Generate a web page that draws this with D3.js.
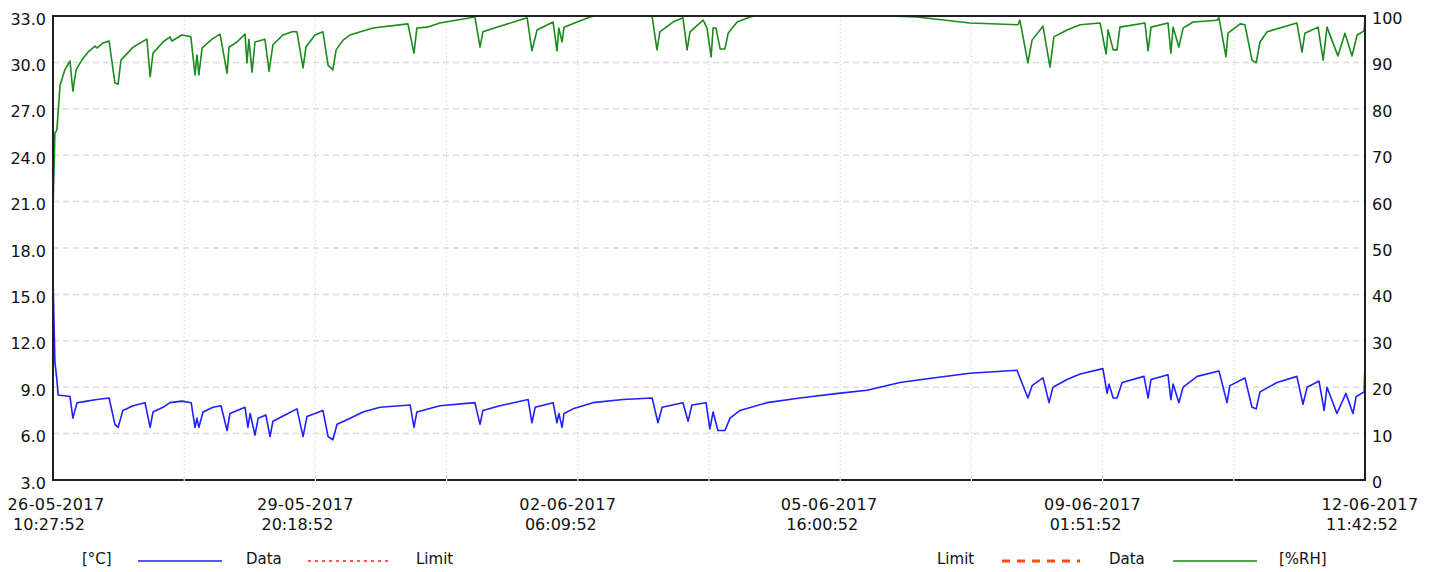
<!DOCTYPE html>
<html>
<head>
<meta charset="utf-8">
<script src="https://cdn.jsdelivr.net/npm/d3@7"></script>
<style>
  body { margin: 0; background: #fff; }
  svg text { font-family: "DejaVu Sans", sans-serif; fill: #111; }
</style>
</head>
<body>
<svg id="chart" width="1436" height="572"></svg>
<script>
// logger readings, hours since 26-05-2017 10:27:52
var startTime = new Date(2017, 4, 26, 10, 27, 52);
var endTime = new Date(2017, 5, 12, 11, 42, 52);

var tempHours = [0, 0.6, 1.2, 1.6, 5.3, 6.2, 7.5, 10.6, 13.7, 17.5, 19.3, 20.3, 21.8, 25.0, 28.7, 30.3, 31.2, 34.3, 36.5, 40.2,
  43.1, 44.3, 44.9, 45.5, 46.8, 49.9, 52.4, 54.3, 55.2, 59.9, 60.8, 61.5, 63.0, 64.0, 66.4, 67.7, 68.6, 72.4, 76.1, 78.0,
  79.2, 81.7, 84.2, 85.8, 87.3, 88.6, 91.7, 96.7, 102.0, 111.4, 112.6, 113.5, 120.7, 131.6, 133.2, 134.1, 139.4, 148.2, 149.4, 150.4,
  156.0, 157.2, 157.8, 158.8, 159.4, 162.2, 168.4, 177.8, 186.9, 188.7, 190.0, 196.5, 198.1, 199.3, 203.7, 204.9, 205.9, 207.4, 209.6, 211.2,
  214.3, 222.7, 233.0, 244.9, 253.9, 264.2, 274.5, 286.0, 300.7, 304.1, 305.4, 308.8, 310.7, 311.9, 316.3, 320.4, 327.5, 328.8, 329.4, 330.7,
  331.9, 333.5, 340.3, 341.6, 342.5, 347.8, 348.7, 349.4, 351.2, 352.5, 356.9, 363.7, 366.2, 367.1, 371.8, 374.0, 375.3, 376.5, 381.8, 388.0,
  389.9, 391.2, 394.9, 396.5, 397.4, 400.5, 403.3, 405.5, 406.5, 409.0, 409.25];
var tempValues = [16.0, 10.6, 9.5, 8.5, 8.4, 7.0, 8.0, 8.1, 8.2, 8.3, 6.6, 6.4, 7.5, 7.8, 8.0, 6.4, 7.4, 7.7, 8.0, 8.1,
  8.0, 6.4, 7.0, 6.4, 7.4, 7.7, 7.8, 6.2, 7.3, 7.7, 6.4, 7.3, 5.9, 7.0, 7.2, 5.8, 6.8, 7.2, 7.6, 5.8,
  7.1, 7.3, 7.5, 5.8, 5.6, 6.6, 6.9, 7.4, 7.7, 7.85, 6.4, 7.4, 7.8, 8.0, 6.6, 7.5, 7.8, 8.2, 6.7, 7.7,
  8.0, 6.7, 7.3, 6.4, 7.3, 7.6, 8.0, 8.2, 8.3, 6.7, 7.7, 8.0, 6.8, 7.85, 8.0, 6.3, 7.4, 6.2, 6.2, 7.0,
  7.5, 8.0, 8.3, 8.6, 8.8, 9.3, 9.6, 9.9, 10.1, 8.3, 9.1, 9.6, 8.0, 9.0, 9.5, 9.85, 10.2, 8.6, 9.2, 8.3,
  8.3, 9.3, 9.7, 8.3, 9.5, 9.8, 8.2, 9.2, 8.0, 9.0, 9.7, 10.05, 8.0, 9.1, 9.6, 7.7, 7.6, 8.7, 9.3, 9.7,
  7.9, 9.0, 9.4, 7.5, 9.0, 7.3, 8.6, 7.3, 8.4, 8.7, 10.6];

var rhHours = [0, 0.6, 1.2, 2.2, 3.7, 5.3, 6.2, 7.2, 9.0, 10.9, 13.1, 13.7, 15.6, 17.5, 19.3, 20.3, 21.2, 25.0, 28.7, 29.3,
  30.3, 31.2, 34.3, 36.5, 37.1, 40.2, 42.1, 43.0, 44.3, 44.9, 45.5, 46.5, 49.6, 52.1, 54.3, 54.9, 57.4, 59.9, 60.5, 61.1,
  62.1, 63.0, 66.1, 67.4, 68.6, 71.7, 74.6, 76.1, 78.0, 78.9, 81.7, 84.2, 85.8, 87.3, 88.3, 90.5, 92.6, 99.8, 110.7, 112.6,
  113.5, 116.7, 120.7, 131.6, 133.2, 134.1, 139.4, 147.9, 149.4, 151.0, 156.0, 157.2, 157.8, 158.8, 159.4, 163.5, 167.5, 170.6, 178.4, 186.2,
  186.9, 188.4, 189.3, 193.4, 196.5, 197.8, 198.7, 202.8, 204.0, 205.3, 205.9, 206.8, 208.1, 209.6, 210.6, 213.4, 217.4, 220.5, 235.0, 250.0,
  260.2, 269.5, 286.0, 301.0, 301.6, 304.1, 305.4, 308.8, 311.0, 312.2, 316.3, 320.4, 326.6, 328.5, 329.1, 330.7, 331.9, 332.8, 340.6, 341.6,
  342.5, 347.8, 348.7, 349.4, 351.2, 352.5, 355.6, 363.1, 363.7, 365.9, 366.5, 370.3, 371.8, 374.0, 375.3, 376.5, 378.7, 388.0, 389.6, 390.5,
  394.6, 396.2, 397.4, 400.8, 403.0, 405.2, 406.8, 409.0, 409.25];
var rhValues = [58.0, 74.8, 75.4, 85.1, 88.4, 90.3, 83.8, 88.4, 90.5, 92.2, 93.5, 93.1, 94.2, 94.6, 85.6, 85.3, 90.5, 93.3, 94.8, 95.0,
  86.9, 92.0, 94.4, 95.5, 94.6, 95.9, 95.7, 95.5, 87.3, 91.6, 87.3, 93.1, 95.0, 96.1, 87.7, 93.3, 94.4, 96.1, 89.9, 95.0,
  87.9, 94.4, 95.0, 88.1, 93.8, 95.9, 96.6, 96.6, 88.8, 93.3, 95.9, 96.6, 89.4, 88.4, 92.7, 94.8, 95.9, 97.4, 98.3, 92.0,
  97.4, 97.6, 98.5, 99.8, 93.3, 96.6, 97.8, 99.6, 92.5, 97.0, 98.7, 92.5, 97.4, 94.4, 97.6, 98.7, 99.8, 100.3, 100.4, 100.2,
  99.8, 92.7, 96.6, 98.7, 99.6, 92.7, 96.6, 99.1, 97.4, 91.2, 97.4, 97.4, 92.9, 92.9, 96.3, 98.7, 99.8, 100.3, 100.6, 100.4,
  100.0, 99.8, 98.5, 98.1, 99.1, 89.9, 94.8, 97.8, 89.0, 95.5, 97.0, 98.1, 98.5, 91.8, 97.0, 92.7, 92.7, 97.6, 98.5, 92.5,
  97.6, 98.5, 92.0, 97.6, 93.3, 97.4, 98.7, 99.1, 99.6, 91.2, 96.3, 98.3, 98.1, 90.5, 89.9, 94.4, 96.6, 98.5, 92.2, 96.3,
  97.6, 90.5, 97.6, 91.4, 96.3, 91.4, 95.9, 96.8, 99.8];

var xTickLabels = ["26-05-2017 10:27:52", "29-05-2017 20:18:52", "02-06-2017 06:09:52",
  "05-06-2017 16:00:52", "09-06-2017 01:51:52", "12-06-2017 11:42:52"];
var tempTicks = [3, 6, 9, 12, 15, 18, 21, 24, 27, 30, 33];
var rhTicks = [0, 10, 20, 30, 40, 50, 60, 70, 80, 90, 100];

var svg = d3.select("#chart");
var M = {left: 53, right: 1365, top: 16, bottom: 480};

var parseLabel = d3.timeParse("%d-%m-%Y %H:%M:%S");
var x = d3.scaleTime().domain([startTime, endTime]).range([M.left, M.right]);
var yT = d3.scaleLinear().domain([3, 33]).range([M.bottom, M.top]);
var yH = d3.scaleLinear().domain([0, 100]).range([M.bottom, M.top]);

function toDate(h) { return new Date(+startTime + h * 3600000); }

// vertical grid every half label step
var step = (endTime - startTime) / 10;
var vGrid = d3.range(1, 10).map(function (i) { return new Date(+startTime + i * step); });

svg.append("g").selectAll("line").data(vGrid).join("line")
  .attr("x1", function (d) { return x(d); }).attr("x2", function (d) { return x(d); })
  .attr("y1", M.top).attr("y2", M.bottom)
  .attr("stroke", "#d4d4d4").attr("stroke-width", 1).attr("stroke-dasharray", "1.5,2.5");

svg.append("g").selectAll("line").data(tempTicks.slice(1, -1)).join("line")
  .attr("x1", M.left).attr("x2", M.right)
  .attr("y1", function (d) { return yT(d); }).attr("y2", function (d) { return yT(d); })
  .attr("stroke", "#dcdcdc").attr("stroke-width", 1.5).attr("stroke-dasharray", "6,4");

svg.append("clipPath").attr("id", "plot").append("rect")
  .attr("x", M.left).attr("y", M.top).attr("width", M.right - M.left).attr("height", M.bottom - M.top);

var tempLine = d3.line()
  .x(function (d, i) { return x(toDate(tempHours[i])); })
  .y(function (d) { return yT(d); });
var rhLine = d3.line()
  .x(function (d, i) { return x(toDate(rhHours[i])); })
  .y(function (d) { return yH(d); });

var plot = svg.append("g").attr("clip-path", "url(#plot)");
plot.append("path").attr("d", rhLine(rhValues))
  .attr("fill", "none").attr("stroke", "#1a8a1a").attr("stroke-width", 1.6).attr("stroke-linejoin", "round");
plot.append("path").attr("d", tempLine(tempValues))
  .attr("fill", "none").attr("stroke", "#1f1fff").attr("stroke-width", 1.6).attr("stroke-linejoin", "round");

// frame
svg.append("rect").attr("x", M.left).attr("y", M.top)
  .attr("width", M.right - M.left).attr("height", M.bottom - M.top)
  .attr("fill", "none").attr("stroke", "#202020").attr("stroke-width", 2);
svg.append("g").selectAll("line").data(vGrid).join("line")
  .attr("x1", function (d) { return x(d); }).attr("x2", function (d) { return x(d); })
  .attr("y1", M.bottom - 1.5).attr("y2", M.bottom + 1.5)
  .attr("stroke", "#fff").attr("stroke-width", 1.2);

// left axis
var leftAxis = d3.axisLeft(yT).tickValues(tempTicks).tickSize(0).tickPadding(7).tickFormat(d3.format(".1f"));
var gl = svg.append("g").attr("transform", "translate(" + M.left + ",0)").call(leftAxis);
gl.select(".domain").remove();
gl.selectAll("text").attr("font-size", 16).attr("dy", "0.5em").attr("font-family", null);

var rightAxis = d3.axisRight(yH).tickValues(rhTicks).tickSize(0).tickPadding(7);
var gr = svg.append("g").attr("transform", "translate(" + M.right + ",0)").call(rightAxis);
gr.select(".domain").remove();
gr.selectAll("text").attr("font-size", 16).attr("dy", "0.47em").attr("font-family", null);

// bottom labels, two lines each
var dateDx = [3, -10, -10, -11, -10, 5];
var timeDx = [-4, -18, -17, -18, -17, -3];
var xl = svg.append("g").selectAll("g").data(xTickLabels).join("g")
  .attr("transform", function (d) { return "translate(" + x(parseLabel(d)) + ",0)"; });
xl.append("text").attr("x", function (d, i) { return dateDx[i]; }).attr("y", 510)
  .attr("text-anchor", "middle").attr("font-size", 16).attr("letter-spacing", 0.4)
  .text(function (d) { return d.split(" ")[0]; });
xl.append("text").attr("x", function (d, i) { return timeDx[i]; }).attr("y", 530)
  .attr("text-anchor", "middle").attr("font-size", 16)
  .text(function (d) { return d.split(" ")[1]; });

// legend
var lg = svg.append("g").attr("font-size", 15);
lg.append("text").attr("x", 82).attr("y", 564).text("[°C]");
lg.append("line").attr("x1", 138).attr("x2", 222).attr("y1", 561).attr("y2", 561)
  .attr("stroke", "#1f1fff").attr("stroke-width", 1.6);
lg.append("text").attr("x", 246).attr("y", 564).text("Data");
lg.append("line").attr("x1", 308).attr("x2", 392).attr("y1", 561).attr("y2", 561)
  .attr("stroke", "#ff2020").attr("stroke-width", 1.4).attr("stroke-dasharray", "3,4");
lg.append("text").attr("x", 416).attr("y", 564).text("Limit");
lg.append("text").attr("x", 937).attr("y", 564).text("Limit");
lg.append("line").attr("x1", 1002).attr("x2", 1080).attr("y1", 561).attr("y2", 561)
  .attr("stroke", "#ff4a10").attr("stroke-width", 3).attr("stroke-dasharray", "8,7");
lg.append("text").attr("x", 1109).attr("y", 564).text("Data");
lg.append("line").attr("x1", 1173).attr("x2", 1257).attr("y1", 561).attr("y2", 561)
  .attr("stroke", "#1a8a1a").attr("stroke-width", 1.6);
lg.append("text").attr("x", 1279).attr("y", 564).text("[%RH]");
</script>
</body>
</html>
